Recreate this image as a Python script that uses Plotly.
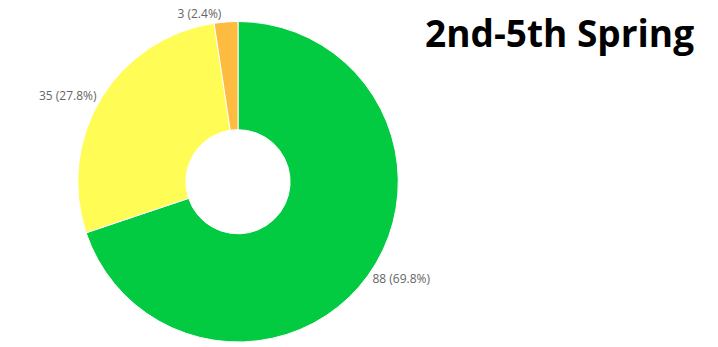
import plotly.graph_objects as go

labels = ["Green", "Yellow", "Orange"]
values = [88, 35, 3]
colors = ["#02CB41", "#FFFC55", "#FDBB3F"]
title_text = "2nd-5th Spring"

fig = go.Figure(go.Pie(
    labels=labels,
    values=values,
    sort=False,
    direction="clockwise",
    rotation=0,
    hole=0.325,
    marker=dict(colors=colors, line=dict(color="white", width=1)),
    textposition="outside",
    texttemplate="%{value} (%{percent:.1%})",
    textfont=dict(family="Open Sans", size=12, color="#666666"),
    domain=dict(x=[0.0985, 0.5645], y=[0.0, 0.9625]),
    showlegend=False,
))

fig.update_layout(
    width=718, height=347,
    margin=dict(l=0, r=0, t=0, b=0),
    paper_bgcolor="white",
    annotations=[dict(text="<b>" + title_text + "</b>", xref="paper", yref="paper",
                      x=0.97, xanchor="right", y=1.013, yanchor="top",
                      showarrow=False,
                      font=dict(family="Open Sans", size=37, color="#000000"))],
)

fig.write_html("out.html")
